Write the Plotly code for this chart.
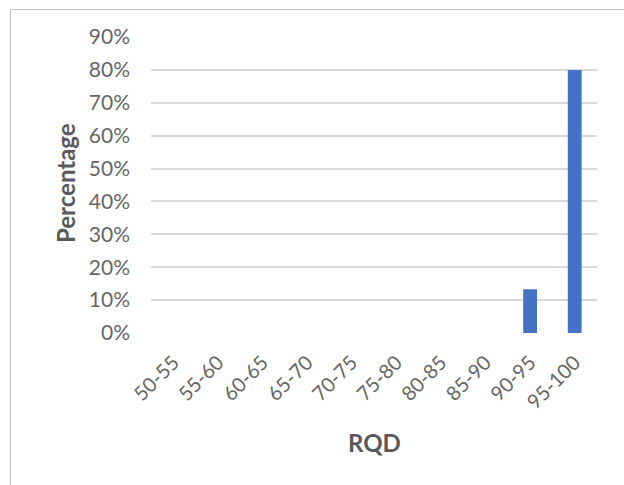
import plotly.graph_objects as go

categories = ["50-55", "55-60", "60-65", "65-70", "70-75", "75-80", "80-85", "85-90", "90-95", "95-100"]
percentages = [0, 0, 0, 0, 0, 0, 0, 0, 0.133, 0.80]
y_ticks = [0, 0.1, 0.2, 0.3, 0.4, 0.5, 0.6, 0.7, 0.8, 0.9]
y_tick_labels = ["0%", "10%", "20%", "30%", "40%", "50%", "60%", "70%", "80%", "90%"]

W, H = 624, 485
L, R, T, B = 151, 27, 37, 152
pw, ph = W - L - R, H - T - B

def px(x):
    return (x - L) / pw

def py(y):
    return (H - B - y) / ph

fig = go.Figure(go.Bar(x=categories, y=percentages, marker=dict(color="#4472C4", line=dict(width=0)),
                       hoverinfo="x+y"))

fig.update_layout(
    width=W, height=H,
    margin=dict(l=L, r=R, t=T, b=B, pad=0),
    paper_bgcolor="white", plot_bgcolor="white",
    bargap=0.69,
    showlegend=False,
    font=dict(family="Lato, Carlito, sans-serif", color="#595959", size=19),
    xaxis=dict(
        type="category", tickangle=-45, showgrid=False, showline=False, zeroline=False,
        ticks="", ticklabelstandoff=13, tickfont=dict(size=20, color="#666666"),
    ),
    yaxis=dict(
        range=[0, 0.9], tickvals=y_ticks, ticktext=y_tick_labels,
        showgrid=True, gridcolor="#d9d9d9", gridwidth=1.5,
        zeroline=False, showline=False, ticks="", ticklabelstandoff=20,
        tickfont=dict(size=21, color="#666666"),
    ),
    annotations=[
        dict(text="<b>Percentage</b>", x=px(65), y=py(183), xref="paper", yref="paper",
             showarrow=False, textangle=-90, font=dict(size=24, color="#595959"),
             xanchor="center", yanchor="middle"),
        dict(text="<b>RQD</b>", x=px(374), y=py(443), xref="paper", yref="paper",
             showarrow=False, font=dict(size=24, color="#595959"),
             xanchor="center", yanchor="middle"),
    ],
    shapes=[
        dict(type="line", xref="paper", yref="paper", x0=px(10.5), x1=px(624), y0=py(9.5), y1=py(9.5),
             line=dict(color="#bfbfbf", width=1)),
        dict(type="line", xref="paper", yref="paper", x0=px(10.5), x1=px(10.5), y0=py(9.5), y1=py(485),
             line=dict(color="#bfbfbf", width=1)),
    ],
)

fig.write_html("out.html", config={"displayModeBar": False},
               post_script="document.body.style.margin='0';")
